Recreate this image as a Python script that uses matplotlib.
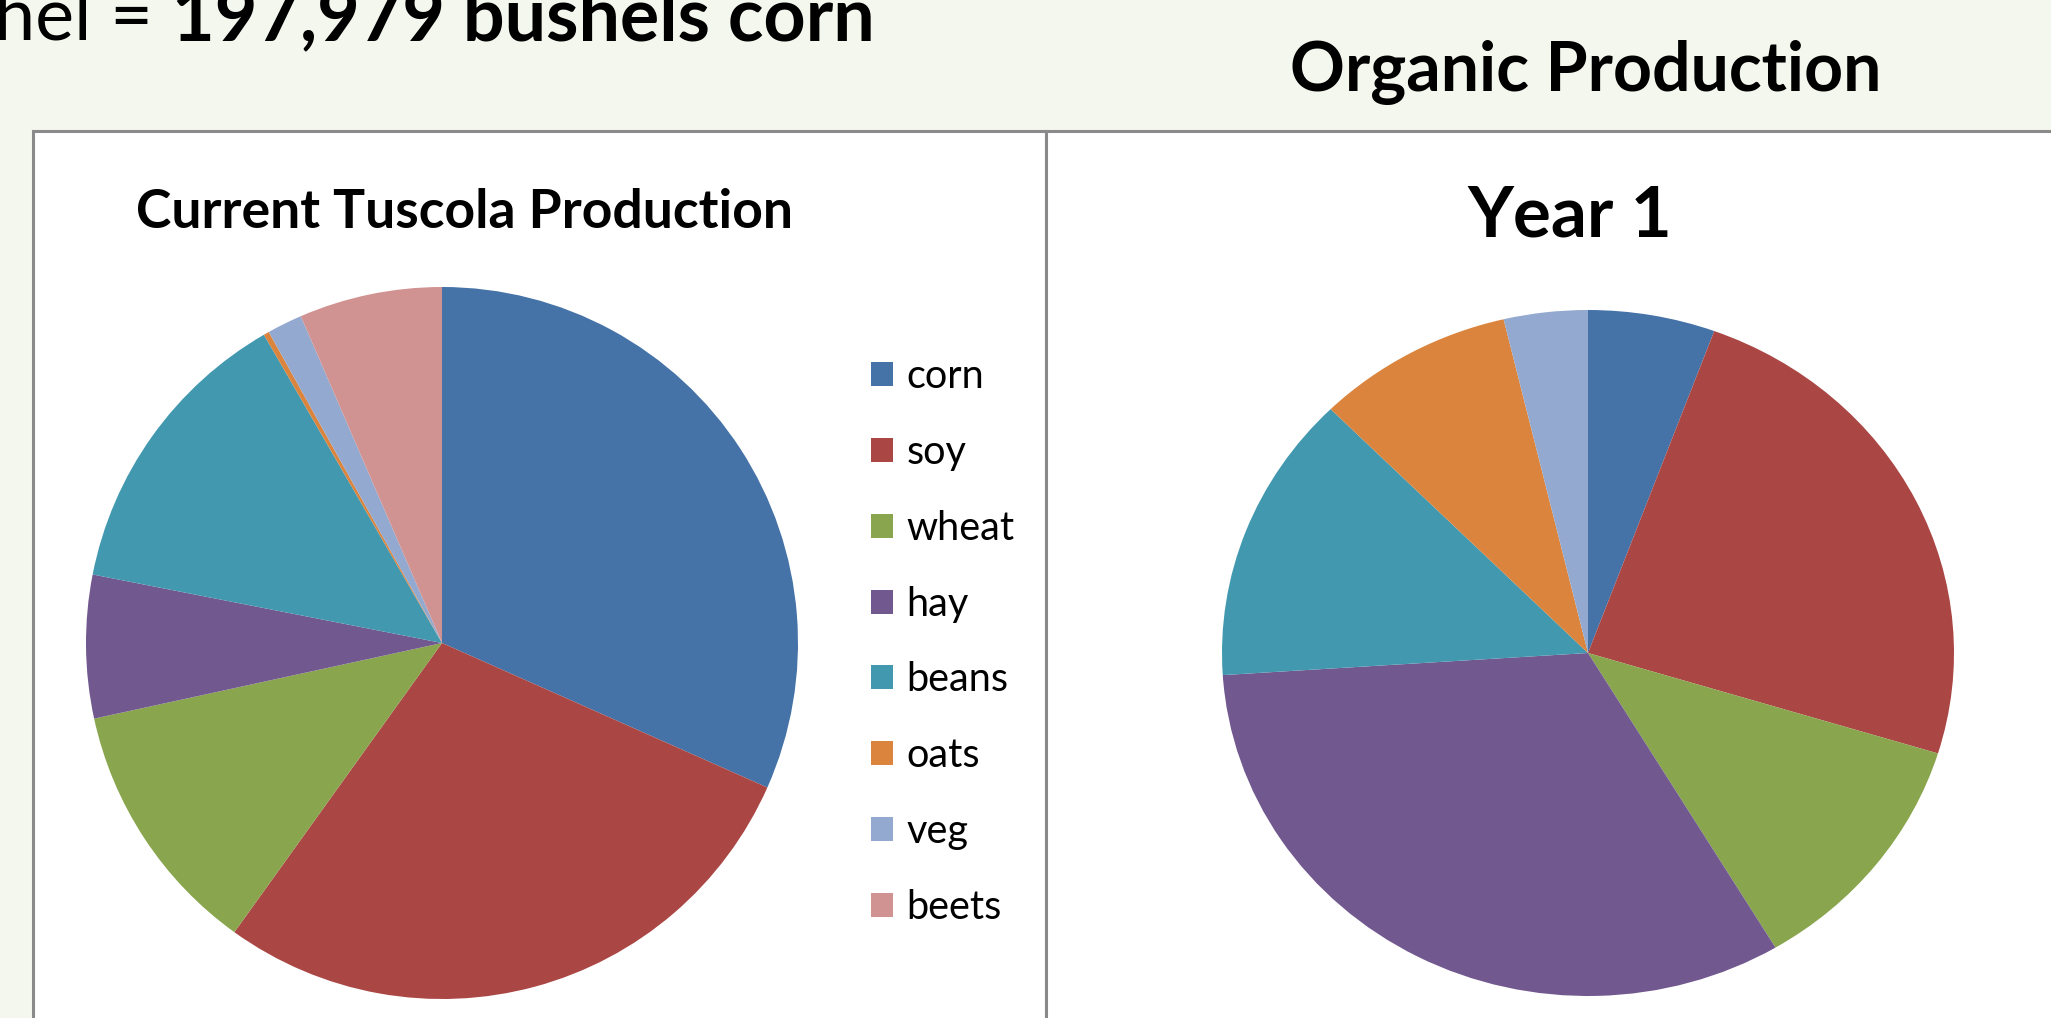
import matplotlib
matplotlib.use("Agg")
import matplotlib.pyplot as plt
from matplotlib.patches import Rectangle

W, H = 2051, 1018

crops = ["corn", "soy", "wheat", "hay", "beans", "oats", "veg", "beets"]
colors = ["#4572A7", "#AA4643", "#89A54E", "#71588F", "#4198AF", "#DB843D", "#93A9CF", "#D19392"]

# share of production (percent)
current_tuscola = [31.7, 28.3, 11.7, 6.5, 13.6, 0.25, 1.6, 6.5]
organic_year1 = [5.6, 24.1, 11.7, 32.5, 13.6, 8.7, 3.7, 0.0]

plt.rcParams["font.family"] = ["Lato", "DejaVu Sans"]


def fx(px):
    return px / W


def fy(py):
    return 1 - py / H


def box(x0, y0, x1, y1):
    # axes rect from pixel corners (top-left origin)
    return [fx(x0), fy(y1), (x1 - x0) / W, (y1 - y0) / H]


fig = plt.figure(figsize=(W / 100, H / 100), dpi=100)
fig.patch.set_facecolor("#f4f7ee")

# slide panels
for x0, x1 in [(33, 1046), (1046, 2070)]:
    fig.patches.append(Rectangle((fx(x0), fy(1040)), (x1 - x0) / W, (1040 - 131) / H,
                                 transform=fig.transFigure, facecolor="white",
                                 edgecolor="#8a8a8a", linewidth=2.2, zorder=-5))

# headline text of the slide (left part is cut off in the original)
t1 = fig.text(fx(-6), fy(40), "hel = ", fontsize=53, va="baseline", ha="left")
renderer = fig.canvas.get_renderer()
x_end = t1.get_window_extent(renderer).x1 / W
fig.text(x_end, fy(40), "197,979 bushels corn", fontsize=53, fontweight="bold",
         va="baseline", ha="left")
fig.text(fx(1586), fy(91), "Organic Production", fontsize=49, fontweight="bold",
         va="baseline", ha="center")

# left pie
ax1 = fig.add_axes(box(86, 287, 798, 999))
wedges, _ = ax1.pie(current_tuscola, colors=colors, startangle=90, counterclock=False,
                    wedgeprops=dict(linewidth=0))
ax1.set_aspect("auto")
ax1.set_xlim(-1, 1)
ax1.set_ylim(-1, 1)
fig.text(fx(464), fy(228), "Current Tuscola Production", fontsize=38.5, fontweight="bold",
         va="baseline", ha="center")

leg = ax1.legend(wedges, crops, loc="center left", bbox_to_anchor=(fx(871), fy(642)),
                 bbox_transform=fig.transFigure, frameon=False, fontsize=28.5,
                 handlelength=0.55, handleheight=0.55, handletextpad=0.35,
                 labelspacing=0.98, borderpad=0, borderaxespad=0)

# right pie (stretched a little wider than tall, as in the slide)
ax2 = fig.add_axes(box(1222, 310, 1954, 996))
ax2.pie(organic_year1, colors=colors, startangle=90, counterclock=False,
        wedgeprops=dict(linewidth=0))
ax2.set_aspect("auto")
ax2.set_xlim(-1, 1)
ax2.set_ylim(-1, 1)
fig.text(fx(1570), fy(237), "Year 1", fontsize=51, fontweight="bold",
         va="baseline", ha="center")

fig.savefig("out.png", dpi=100, facecolor=fig.get_facecolor())
